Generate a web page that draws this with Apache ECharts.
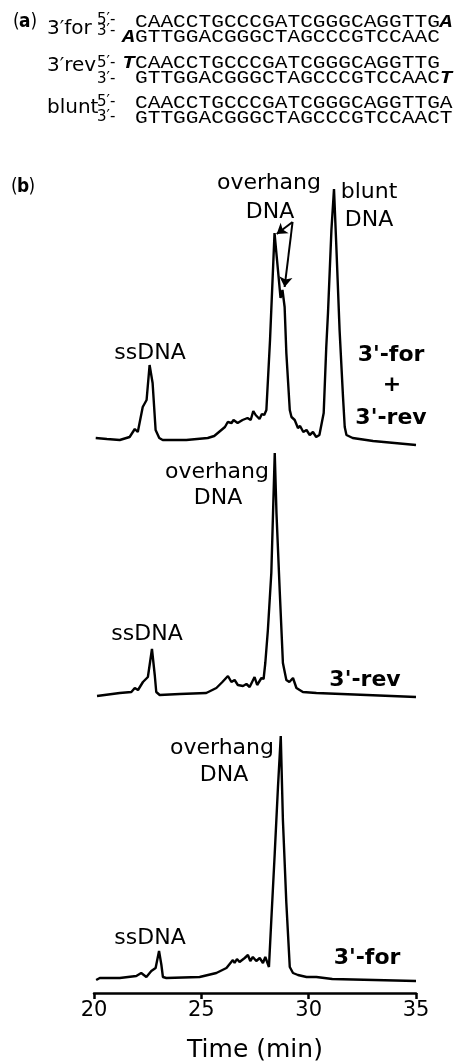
<!DOCTYPE html>
<html>
<head>
<meta charset="utf-8">
<script src="https://cdn.jsdelivr.net/npm/echarts@6/dist/echarts.min.js"></script>
<style>
html,body{margin:0;padding:0;background:#fff;}
#chart{width:458px;height:1064px;}
</style>
</head>
<body>
<div id="chart"></div>
<script>
// ---------- DATA ----------
// Panel (a): duplex sequences
const duplexNames = ['3\u2032for', '3\u2032rev', 'blunt'];
const strandTags = ['5\u2032-', '3\u2032-'];
const seqNormal = [
  ' CAACCTGCCCGATCGGGCAGGTTG',
  ' GTTGGACGGGCTAGCCCGTCCAAC',
  ' CAACCTGCCCGATCGGGCAGGTTG',
  ' GTTGGACGGGCTAGCCCGTCCAAC',
  ' CAACCTGCCCGATCGGGCAGGTTGA',
  ' GTTGGACGGGCTAGCCCGTCCAACT'
];
const seqOverhang = ['A', 'A', 'T', 'T', '', ''];
const seqOverhangIdx = [25, 0, 0, 25, -1, -1];

// Panel (b): chromatograms (time in min, absorbance a.u.)
const tForRev = [20.08,20.6,21.2,21.66,21.9,22.04,22.27,22.45,22.59,22.73,22.87,23.04,23.2,24.3,25.3,25.6,26.1,26.23,26.41,26.5,26.69,26.92,27.15,27.3,27.42,27.53,27.71,27.82,27.93,28.03,28.2,28.41,28.46,28.69,28.78,28.88,28.96,29.12,29.2,29.35,29.5,29.6,29.75,29.9,30.05,30.2,30.35,30.5,30.59,30.7,30.82,30.9,31.06,31.18,31.29,31.44,31.6,31.68,31.76,32.05,33.0,34.0,35.0];
const aForRev = [12,11,10,13,21,18,43,50,85,67,20,12,10,10,12,14,23,28,27,30,27,30,32,30,39,35,31,36,35,40,110,217,215,152,160,143,97,40,33,30,22,24,18,20,15,18,13,15,14,37,103,137,220,261,203,120,53,23,15,12,9,7,5];

const tRev = [20.14,21.2,21.74,21.9,22.05,22.28,22.51,22.7,22.83,22.9,23.06,24.0,25.23,25.7,25.98,26.24,26.4,26.55,26.7,26.94,27.1,27.25,27.48,27.6,27.8,27.9,27.98,28.1,28.26,28.34,28.42,28.5,28.65,28.8,28.96,29.1,29.27,29.43,29.73,30.36,32.7,35.0];
const aRev = [14,17,18,22,20,28,33,61,35,18,15,16,17,22,28,34,28,30,25,24,26,23,33,25,32,31,47,80,137,197,257,197,120,47,30,28,32,22,18,17,15,13];

const tFor = [20.1,20.27,21.2,21.97,22.2,22.44,22.67,22.87,23.03,23.14,23.21,23.37,24.92,25.7,26.17,26.47,26.55,26.66,26.78,27.02,27.17,27.28,27.4,27.56,27.72,27.87,27.98,28.15,28.26,28.42,28.57,28.7,28.8,28.96,29.12,29.27,29.5,29.57,29.9,30.36,31.1,35.0];
const aFor = [13,15,15,17,20,16,22,25,42,28,16,15,16,20,25,33,30,34,31,35,38,32,36,32,35,30,36,26,73,140,206,257,173,90,26,20,18,20,16,16,14,12];

const xTicks = [20, 25, 30, 35];
const xName = 'Time (min)';
const traceNames = ["3'-for + 3'-rev", "3'-rev", "3'-for"];

// ---------- BUILD ----------
const zip = (t, a) => t.map((v, i) => [v, a[i]]);
const SANS = 'DejaVu Sans';
const MONO = 'Liberation Mono';

const chart = echarts.init(document.getElementById('chart'), null, {renderer: 'canvas'});

const grids = [
  {left: 94, right: 42, top: 150, height: 300},
  {left: 94, right: 42, top: 440, height: 270},
  {left: 94, right: 42, top: 720, height: 273}
];
const yMax = [300, 270, 273];

const xAxes = grids.map((g, i) => ({
  type: 'value', gridIndex: i, min: xTicks[0], max: xTicks[xTicks.length - 1], interval: 5,
  show: i === 2,
  axisLine: {show: true, onZero: false, lineStyle: {color: '#000', width: 2.5}},
  axisTick: {show: true, length: 6, inside: false, lineStyle: {color: '#000', width: 2.5}},
  axisLabel: {color: '#000', fontFamily: SANS, fontSize: 21, margin: 7},
  splitLine: {show: false},
  name: i === 2 ? xName : '',
  nameLocation: 'middle', nameGap: 45,
  nameTextStyle: {color: '#000', fontFamily: SANS, fontSize: 25}
}));
const yAxes = grids.map((g, i) => ({type: 'value', gridIndex: i, min: 0, max: yMax[i], show: false}));

const lineStyle = {color: '#000', width: 2.4};
const mkSeries = (name, data, i, extra) => Object.assign({
  name, type: 'line', xAxisIndex: i, yAxisIndex: i, data,
  showSymbol: false, symbol: 'none', lineStyle, silent: true, clip: false
}, extra || {});

const series = [
  mkSeries(traceNames[0], zip(tForRev, aForRev), 0, {
    markLine: {
      silent: true, symbol: ['none', 'arrow'], symbolSize: 10,
      lineStyle: {color: '#000', width: 2, type: 'solid'},
      label: {show: false}, emphasis: {disabled: true},
      data: [
        [{coord: [29.25, 228]}, {coord: [28.51, 216]}],
        [{coord: [29.25, 228]}, {coord: [28.88, 163]}]
      ]
    }
  }),
  mkSeries(traceNames[1], zip(tRev, aRev), 1),
  mkSeries(traceNames[2], zip(tFor, aFor), 2)
];

// ---------- TEXT (graphic) ----------
const fontStr = (size, fam, pre) => (pre ? pre + ' ' : '') + size + 'px "' + fam + '"';
const txt = (x, y, text, size, opts) => {
  const o = opts || {};
  const fam = o.fam || SANS;
  return Object.assign({
    type: 'text', x, y, silent: true,
    style: {
      text, fill: '#000', font: fontStr(size, fam, o.pre),
      textAlign: o.align || 'center', textVerticalAlign: 'middle'
    }
  }, o.el || {});
};

const graphic = [];
// panel labels "(a)" "(b)"
[['a', 13, 22], ['b', 11, 187]].forEach(p => {
  graphic.push(txt(p[1], p[2], '(', 20, {align: 'left', el: {scaleX: 0.85}}));
  graphic.push(txt(p[1] + 6, p[2], p[0], 20, {align: 'left', pre: 'bold', el: {scaleX: 0.85}}));
  graphic.push(txt(p[1] + 17.5, p[2], ')', 20, {align: 'left', el: {scaleX: 0.85}}));
});

// duplex names
const nameY = [29, 66, 108];
duplexNames.forEach((n, i) => graphic.push(txt(47, nameY[i], n, 20, {align: 'left'})));
// strand tags
const tagY = [[20, 31], [63, 79], [102, 117]];
tagY.forEach(pair => pair.forEach((y, k) =>
  graphic.push(txt(97, y, strandTags[k], 15, {align: 'left'}))));
// sequences
const seqX0 = 122.3, charW = 12.7, seqSize = 19, seqScale = charW / (0.6 * seqSize);
const seqY = [22, 37, 63, 78, 103, 118];
seqNormal.forEach((s, i) => {
  graphic.push(txt(seqX0, seqY[i], s, seqSize, {align: 'left', fam: MONO, el: {scaleX: seqScale}}));
  if (seqOverhang[i]) {
    graphic.push(txt(seqX0 + seqOverhangIdx[i] * charW, seqY[i], seqOverhang[i], seqSize,
      {align: 'left', fam: MONO, pre: 'italic bold', el: {scaleX: seqScale}}));
  }
});

// chromatogram annotations
const ann = [
  [269, 183, 'overhang'], [270, 212, 'DNA'], [369, 192, 'blunt'], [369, 220, 'DNA'], [150, 353, 'ssDNA'],
  [217, 472, 'overhang'], [218, 498, 'DNA'], [147, 634, 'ssDNA'],
  [222, 748, 'overhang'], [224, 775, 'DNA'], [150, 938, 'ssDNA']
];
ann.forEach(a => graphic.push(txt(a[0], a[1], a[2], 22)));
const boldLab = [[391, 355, "3'-for"], [392, 385, '+'], [391, 418, "3'-rev"], [365, 680, "3'-rev"], [367, 958, "3'-for"]];
boldLab.forEach(a => graphic.push(txt(a[0], a[1], a[2], 22, {pre: 'bold'})));

chart.setOption({
  animation: false,
  backgroundColor: '#fff',
  grid: grids,
  xAxis: xAxes,
  yAxis: yAxes,
  series,
  graphic
});
</script>
</body>
</html>
